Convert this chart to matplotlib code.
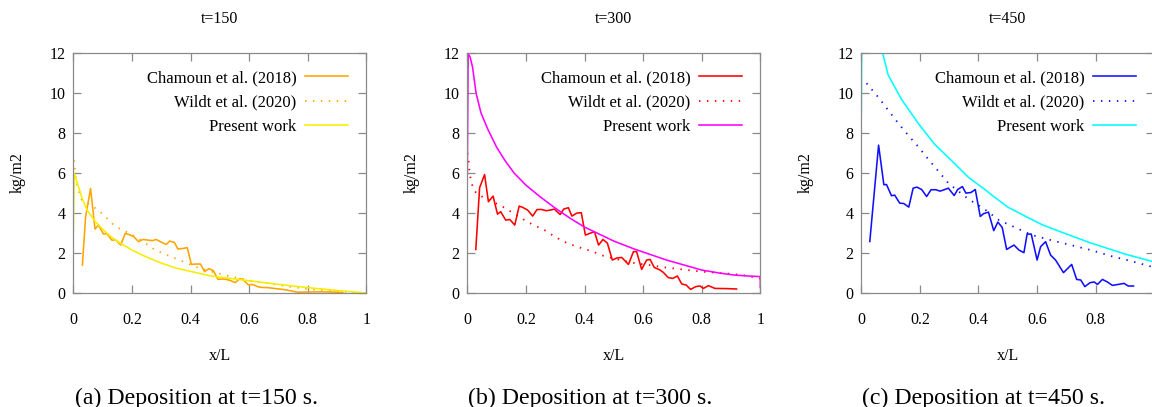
import matplotlib
matplotlib.use("Agg")
import matplotlib.pyplot as plt
from matplotlib.ticker import FixedLocator, FuncFormatter

plt.rcParams['font.family'] = ['Liberation Serif', 'DejaVu Serif']

# ---------------- data ----------------
titles = ["t=150", "t=300", "t=450"]
captions = ["(a) Deposition at t=150 s.", "(b) Deposition at t=300 s.", "(c) Deposition at t=450 s."]
series_labels = ["Chamoun et al. (2018)", "Wildt et al. (2020)", "Present work"]
x_ticks = [0, 0.2, 0.4, 0.6, 0.8, 1.0]
y_ticks = [0, 2, 4, 6, 8, 10, 12]

# t=150
cham150_x = [0.031, 0.042, 0.059, 0.074, 0.086, 0.103, 0.114, 0.131, 0.145, 0.162, 0.177, 0.190,
             0.206, 0.223, 0.238, 0.254, 0.269, 0.283, 0.297, 0.317, 0.329, 0.345, 0.357, 0.374,
             0.389, 0.403, 0.417, 0.434, 0.448, 0.463, 0.478, 0.494, 0.509, 0.522, 0.537, 0.553,
             0.568, 0.579, 0.598, 0.611, 0.629, 0.642, 0.663, 0.690, 0.720, 0.745, 0.765, 0.800,
             0.850, 0.900, 0.920]
cham150_y = [1.40, 3.82, 5.23, 3.20, 3.40, 2.95, 2.98, 2.65, 2.65, 2.40, 2.98, 2.93,
             2.82, 2.57, 2.68, 2.65, 2.62, 2.68, 2.57, 2.43, 2.60, 2.53, 2.20, 2.23,
             2.27, 1.43, 1.45, 1.45, 1.07, 1.22, 1.12, 0.68, 0.70, 0.68, 0.62, 0.52,
             0.72, 0.68, 0.40, 0.43, 0.32, 0.28, 0.27, 0.22, 0.17, 0.10, 0.04, 0.05,
             0.06, 0.04, 0.03]
wildt150_x = [0.002, 0.009, 0.017, 0.026, 0.040, 0.060, 0.080, 0.100, 0.118, 0.135, 0.154, 0.190,
              0.220, 0.250, 0.280, 0.320, 0.345, 0.370, 0.420, 0.470, 0.530, 0.570, 0.610, 0.670,
              0.730, 0.810, 0.880, 0.950, 1.000]
wildt150_y = [6.65, 5.70, 5.20, 4.70, 4.55, 4.40, 4.20, 3.95, 3.70, 3.45, 3.25, 3.00,
              2.75, 2.45, 2.15, 1.90, 1.75, 1.60, 1.30, 1.08, 0.85, 0.72, 0.60, 0.48,
              0.33, 0.18, 0.10, 0.03, 0.00]
pres150_x = [0.0, 0.003, 0.018, 0.030, 0.047, 0.074, 0.103, 0.130, 0.160, 0.200, 0.250, 0.300,
             0.350, 0.410, 0.470, 0.580, 0.690, 0.800, 0.920, 1.000]
pres150_y = [3.0, 6.00, 5.30, 4.75, 4.15, 3.60, 3.15, 2.80, 2.50, 2.15, 1.80, 1.50,
             1.25, 1.05, 0.85, 0.65, 0.45, 0.27, 0.10, 0.00]

# t=300
cham300_x = [0.029, 0.042, 0.059, 0.072, 0.088, 0.103, 0.114, 0.131, 0.145, 0.162, 0.177, 0.190,
             0.206, 0.223, 0.238, 0.254, 0.269, 0.283, 0.297, 0.317, 0.329, 0.345, 0.357, 0.374,
             0.389, 0.403, 0.417, 0.434, 0.448, 0.463, 0.478, 0.495, 0.510, 0.527, 0.550, 0.567,
             0.578, 0.595, 0.612, 0.624, 0.638, 0.658, 0.669, 0.686, 0.701, 0.717, 0.732, 0.747,
             0.762, 0.780, 0.794, 0.806, 0.823, 0.845, 0.885, 0.919]
cham300_y = [2.18, 5.27, 5.93, 4.57, 4.85, 3.95, 4.07, 3.65, 3.68, 3.40, 4.35, 4.28,
             4.15, 3.85, 4.18, 4.18, 4.12, 4.15, 4.20, 3.93, 4.20, 4.27, 3.85, 4.00,
             4.02, 2.90, 2.98, 3.07, 2.40, 2.68, 2.50, 1.65, 1.75, 1.78, 1.43, 2.07,
             2.07, 1.18, 1.65, 1.68, 1.28, 1.15, 1.03, 0.77, 0.73, 0.85, 0.45, 0.40,
             0.18, 0.32, 0.35, 0.23, 0.37, 0.23, 0.22, 0.20]
wildt300_x = [0.0, 0.003, 0.007, 0.012, 0.022, 0.035, 0.054, 0.080, 0.112, 0.149, 0.186, 0.220,
              0.263, 0.303, 0.343, 0.383, 0.429, 0.463, 0.500, 0.537, 0.577, 0.620, 0.680, 0.740,
              0.800, 0.860, 0.910, 0.960, 1.000]
wildt300_y = [7.00, 6.90, 6.15, 5.65, 5.15, 4.95, 4.80, 4.60, 4.40, 4.07, 3.73, 3.45,
              3.15, 2.78, 2.48, 2.28, 2.07, 1.87, 1.73, 1.60, 1.48, 1.40, 1.27, 1.17,
              1.07, 1.00, 0.95, 0.85, 0.72]
pres300_x = [0.0, 0.003, 0.010, 0.018, 0.030, 0.047, 0.070, 0.100, 0.130, 0.160, 0.200, 0.250,
             0.300, 0.350, 0.400, 0.450, 0.500, 0.570, 0.620, 0.680, 0.740, 0.800, 0.860, 0.910,
             0.960, 1.000, 1.000]
pres300_y = [6.0, 12.0, 11.8, 11.3, 10.0, 9.0, 8.2, 7.3, 6.6, 6.0, 5.4, 4.8,
             4.25, 3.75, 3.30, 2.95, 2.60, 2.20, 1.95, 1.65, 1.40, 1.15, 1.00, 0.90,
             0.85, 0.82, 0.28]

# t=450
cham450_x = [0.029, 0.059, 0.077, 0.086, 0.103, 0.114, 0.131, 0.145, 0.162, 0.177, 0.190, 0.206,
             0.223, 0.238, 0.254, 0.269, 0.283, 0.297, 0.317, 0.329, 0.345, 0.357, 0.374, 0.389,
             0.406, 0.417, 0.434, 0.452, 0.466, 0.481, 0.496, 0.521, 0.538, 0.555, 0.566, 0.580,
             0.600, 0.612, 0.629, 0.646, 0.663, 0.690, 0.718, 0.735, 0.749, 0.763, 0.781, 0.795,
             0.806, 0.823, 0.840, 0.857, 0.897, 0.911, 0.929]
cham450_y = [2.58, 7.40, 5.42, 5.43, 4.87, 4.90, 4.50, 4.48, 4.30, 5.25, 5.30, 5.18,
             4.83, 5.17, 5.17, 5.10, 5.17, 5.25, 4.88, 5.18, 5.33, 5.00, 5.03, 5.18,
             3.83, 3.97, 4.05, 3.12, 3.55, 3.28, 2.18, 2.40, 2.15, 2.02, 2.95, 2.95,
             1.65, 2.32, 2.57, 1.90, 1.65, 1.02, 1.43, 0.68, 0.65, 0.32, 0.52, 0.55,
             0.43, 0.68, 0.55, 0.38, 0.48, 0.35, 0.35]
wildt450_x = [0.018, 0.035, 0.058, 0.092, 0.126, 0.160, 0.190, 0.223, 0.263, 0.297, 0.331, 0.366,
              0.420, 0.470, 0.537, 0.583, 0.646, 0.715, 0.783, 0.852, 0.920, 0.983, 1.000]
wildt450_y = [10.5, 10.2, 9.8, 9.15, 8.5, 7.9, 7.4, 6.8, 6.1, 5.5, 5.1, 4.7,
              4.2, 3.65, 3.2, 2.9, 2.65, 2.4, 2.15, 1.85, 1.6, 1.35, 1.28]
pres450_x = [0.0, 0.003, 0.030, 0.073, 0.092, 0.137, 0.194, 0.250, 0.310, 0.365, 0.420, 0.450,
             0.500, 0.555, 0.617, 0.670, 0.780, 0.900, 1.000]
pres450_y = [9.0, 17.0, 14.0, 12.0, 10.9, 9.7, 8.5, 7.45, 6.6, 5.8, 5.2, 4.85,
             4.3, 3.88, 3.42, 3.12, 2.52, 1.95, 1.55]

panels = [
    (cham150_x, cham150_y, wildt150_x, wildt150_y, pres150_x, pres150_y),
    (cham300_x, cham300_y, wildt300_x, wildt300_y, pres300_x, pres300_y),
    (cham450_x, cham450_y, wildt450_x, wildt450_y, pres450_x, pres450_y),
]
main_colors = ["#ffa500", "#ff0000", "#1010ff"]
present_colors = ["#f5ee00", "#ff00ff", "#00ffff"]

# ---------------- layout ----------------
W, H = 1152, 407
fig = plt.figure(figsize=(W / 100, H / 100), dpi=100)

ax_lefts = [73.3, 467.3, 861.3]
ax_w = 293.0
ax_top, ax_bot = 53.3, 293.0
caption_cx = [197, 590.5, 984]
ylabel_cx = [17.5, 411.5, 805.5]
frame_col = "#8a8a8a"

for i, (cx, cy, wx, wy, px, py) in enumerate(panels):
    ax = fig.add_axes([ax_lefts[i] / W, (H - ax_bot) / H, ax_w / W, (ax_bot - ax_top) / H])
    ax.set_xlim(0, 1)
    ax.set_ylim(0, 12)
    l1, = ax.plot(cx, cy, color=main_colors[i], lw=1.15, label=series_labels[0])
    l2, = ax.plot(wx, wy, color=main_colors[i], lw=1.3, linestyle=(0, (0.8, 3.6)),
                  label=series_labels[1])
    l3, = ax.plot(px, py, color=present_colors[i], lw=1.15, label=series_labels[2])
    for s in ax.spines.values():
        s.set_color(frame_col)
        s.set_linewidth(0.9)
    ax.xaxis.set_major_locator(FixedLocator(x_ticks))
    ax.yaxis.set_major_locator(FixedLocator(y_ticks))
    # the right-most panel is cropped at the figure edge, so its "1" label is not shown
    last_label = i < 2
    xfmt = FuncFormatter(lambda v, p, show=last_label: ("%g" % v) if (v < 0.99 or show) else "")
    yfmt = FuncFormatter(lambda v, p: "%g" % v)
    ax.xaxis.set_major_formatter(xfmt)
    ax.yaxis.set_major_formatter(yfmt)
    ax.tick_params(direction="in", length=6, width=0.9, color=frame_col,
                   top=True, right=True, labelsize=11.5, labelcolor="black")
    ax.tick_params(axis="x", pad=13.5)
    ax.tick_params(axis="y", pad=5.5)
    ax.set_facecolor("white")

    leg = ax.legend(handles=[l1, l2, l3], loc="upper right",
                    bbox_to_anchor=(0.9375, 0.93), borderaxespad=0, borderpad=0,
                    frameon=False, fontsize=12, markerfirst=False,
                    handlelength=2.55, handletextpad=0.55, labelspacing=0.5)
    vp = leg._legend_box._children[-1]._children[0]
    vp.align = "right"

    centre = (ax_lefts[i] + ax_w / 2) / W
    fig.text(centre, (H - 23.3) / H, titles[i], ha="center", va="baseline", fontsize=11.5)
    fig.text(centre, (H - 360) / H, "x/L", ha="center", va="baseline", fontsize=11.5)
    fig.text(ylabel_cx[i] / W, (H - 173) / H, "kg/m2", ha="center", va="center",
             rotation=90, fontsize=11.5)
    fig.text(caption_cx[i] / W, (H - 404.3) / H, captions[i], ha="center", va="baseline",
             fontsize=17.2)

fig.savefig("out.png", dpi=100)
